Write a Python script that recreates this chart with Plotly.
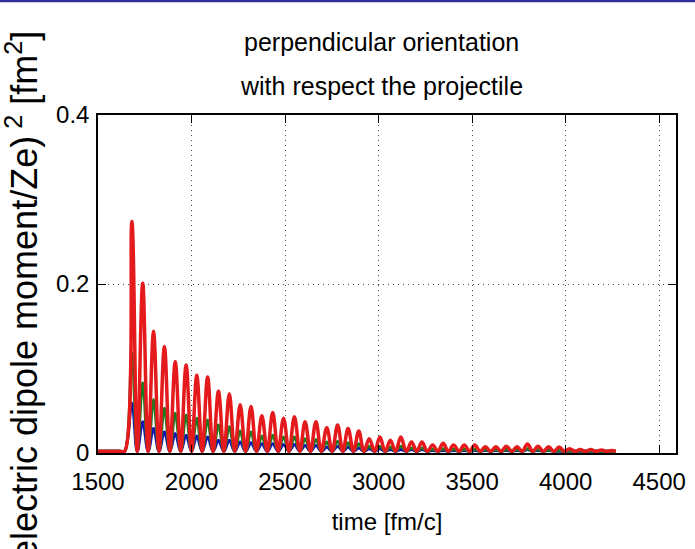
import plotly.graph_objects as go

# ---- data ----
lead_t = [1500, 1620, 1642]
lead_v = [0.002, 0.002, 0.002]

peak_t = [1681, 1739, 1797, 1855, 1913, 1971, 2028, 2086, 2144, 2202,
          2260, 2318, 2376, 2434, 2492, 2550, 2607, 2665, 2723, 2781,
          2837, 2894, 2950, 3007, 3063, 3119, 3176, 3232, 3289, 3345,
          3401, 3458, 3514, 3571, 3627, 3683, 3740, 3796, 3852, 3909,
          3965, 4021, 4078, 4134, 4191, 4247]
trough_t = [1710, 1768, 1826, 1884, 1942, 2000, 2057, 2115, 2173, 2231,
            2289, 2347, 2405, 2463, 2521, 2579, 2636, 2694, 2752, 2809,
            2866, 2922, 2979, 3035, 3091, 3148, 3204, 3261, 3317, 3373,
            3430, 3486, 3543, 3599, 3655, 3712, 3768, 3824, 3881, 3937,
            3993, 4050, 4106, 4163, 4219, 4268]
trough_v = [0.002, 0.002, 0.002, 0.002, 0.002, 0.002, 0.002, 0.002, 0.002, 0.002,
            0.002, 0.002, 0.002, 0.002, 0.002, 0.002, 0.002, 0.002, 0.002, 0.002,
            0.002, 0.002, 0.002, 0.002, 0.002, 0.002, 0.002, 0.002, 0.002, 0.002,
            0.002, 0.002, 0.002, 0.002, 0.002, 0.002, 0.002, 0.002, 0.002, 0.002,
            0.002, 0.002, 0.002, 0.002, 0.002, 0.002]

red_peaks = [0.274, 0.201, 0.144, 0.126, 0.108, 0.104, 0.092, 0.090, 0.073, 0.070,
             0.057, 0.055, 0.044, 0.048, 0.041, 0.043, 0.037, 0.037, 0.030, 0.033,
             0.029, 0.026, 0.017, 0.019, 0.015, 0.019, 0.013, 0.013, 0.0095, 0.0115,
             0.0095, 0.0095, 0.0095, 0.0075, 0.0075, 0.008, 0.0075, 0.0107, 0.008, 0.0075,
             0.007, 0.005, 0.004, 0.004, 0.0035, 0.003]
green_peaks = [0.118, 0.083, 0.063, 0.053, 0.047, 0.045, 0.041, 0.039, 0.033, 0.031,
               0.026, 0.025, 0.020, 0.021, 0.019, 0.019, 0.017, 0.016, 0.013, 0.014,
               0.012, 0.011, 0.008, 0.008, 0.007, 0.008, 0.006, 0.006, 0.0045, 0.005,
               0.0045, 0.0045, 0.0045, 0.004, 0.004, 0.004, 0.004, 0.005, 0.004, 0.0035,
               0.003, 0.0025, 0.0025, 0.0025, 0.002, 0.002]
blue_peaks = [0.059, 0.037, 0.029, 0.025, 0.023, 0.021, 0.020, 0.019, 0.015, 0.015,
              0.013, 0.012, 0.011, 0.011, 0.010, 0.010, 0.009, 0.009, 0.007, 0.008,
              0.007, 0.006, 0.005, 0.005, 0.004, 0.004, 0.004, 0.004, 0.003, 0.003,
              0.003, 0.003, 0.003, 0.003, 0.003, 0.003, 0.003, 0.004, 0.003, 0.003,
              0.002, 0.002, 0.002, 0.002, 0.002, 0.002]

x_ticks = [1500, 2000, 2500, 3000, 3500, 4000, 4500]
y_ticks = [0, 0.2, 0.4]
y_tick_text = ["0", "0.2", "0.4"]

title_lines = ["perpendicular orientation", "with respect the projectile"]
x_title = "time [fm/c]"
y_title = "(electric dipole moment/Ze)<sup> 2</sup> [fm<sup>2</sup>]"


def build(peaks):
    xs = list(lead_t)
    ys = list(lead_v)
    for pt, pv, tt, tv in zip(peak_t, peaks, trough_t, trough_v):
        xs += [pt, tt]
        ys += [pv, tv]
    return xs, ys


FONT = "Liberation Sans, Arial, Helvetica, sans-serif"

fig = go.Figure()
for peaks, color, w in [(blue_peaks, "#1414b4", 3),
                        (green_peaks, "#1f7a1f", 3),
                        (red_peaks, "#e41a1c", 3.5)]:
    xs, ys = build(peaks)
    fig.add_trace(go.Scatter(x=xs, y=ys, mode="lines",
                             line=dict(color=color, width=w, shape="spline", smoothing=1.1),
                             showlegend=False, hoverinfo="skip"))

L, R, T, B = 98, 9, 115, 96
H = 549 - T - B
W = 695 - L - R

axis_common = dict(showline=True, linecolor="black", linewidth=1.5, mirror="ticks",
                   ticks="inside", ticklen=8, tickwidth=1.2, tickcolor="black",
                   showgrid=True, gridcolor="#444", gridwidth=1, griddash="1px,4px",
                   zeroline=False, ticklabeloverflow="allow",
                   tickfont=dict(family=FONT, size=24, color="black"))

fig.update_xaxes(range=[1500, 4590], tickvals=x_ticks, ticktext=[str(v) for v in x_ticks],
                 ticklabelstandoff=6,
                 title=dict(text=x_title, font=dict(family=FONT, size=24, color="black"),
                            standoff=20), **axis_common)
fig.update_yaxes(range=[0, 0.4], tickvals=y_ticks, ticktext=y_tick_text,
                 ticklabelstandoff=2, **axis_common)

annotations = [
    dict(text=title_lines[0], xref="paper", yref="paper", x=(386 - L) / W,
         y=(453 - 42) / H, xanchor="center", yanchor="middle", showarrow=False,
         font=dict(family=FONT, size=25, color="black")),
    dict(text=title_lines[1], xref="paper", yref="paper", x=(386 - L) / W,
         y=(453 - 86) / H, xanchor="center", yanchor="middle", showarrow=False,
         font=dict(family=FONT, size=25, color="black")),
    dict(text=y_title, xref="paper", yref="paper", x=0, xshift=22 - L,
         y=(453 - 302) / H, xanchor="center", yanchor="middle", textangle=-90,
         showarrow=False, font=dict(family=FONT, size=36, color="black")),
]

fig.update_layout(width=695, height=549, margin=dict(l=L, r=R, t=T, b=B, pad=0),
                  paper_bgcolor="white", plot_bgcolor="white",
                  annotations=annotations,
                  shapes=[dict(type="line", xref="paper", yref="paper",
                               x0=-0.3, x1=1.2, y0=1 + (T - 1) / H, y1=1 + (T - 1) / H,
                               line=dict(color="#2e2e96", width=2.5))])

fig.write_html("out.html")
